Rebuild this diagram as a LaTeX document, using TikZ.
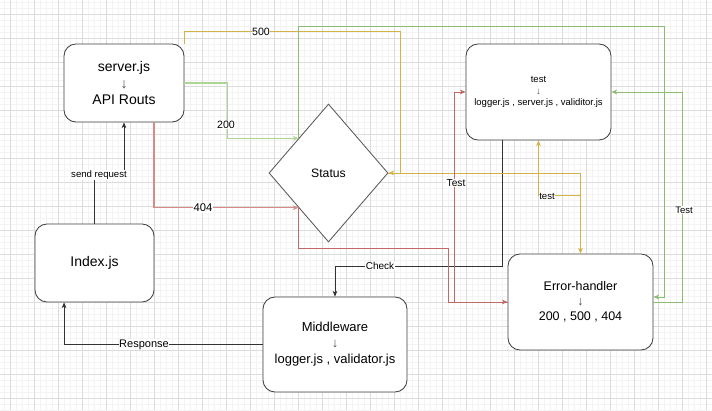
\documentclass[tikz,border=0pt]{standalone}
\usepackage{fontspec}
\setmainfont{Liberation Sans}
\usetikzlibrary{shapes.geometric,arrows.meta,calc}
\definecolor{gline}{HTML}{8DBB72}
\definecolor{oline}{HTML}{D3B24A}
\definecolor{rline}{HTML}{C06A66}
\definecolor{gtwo}{HTML}{AED596}
\definecolor{rfour}{HTML}{D88A88}
\definecolor{minorgrid}{HTML}{F3F3F3}
\definecolor{majorgrid}{HTML}{DCDCDC}
\definecolor{boxline}{HTML}{404040}
\begin{document}
\begin{tikzpicture}[x=1pt,y=-1pt,
  tip/.style={-{Stealth[length=5.5pt,width=4.5pt,inset=1.3pt]}},
  conn/.style={line width=0.75pt, tip},
  blk/.style={conn, draw=black!80},
  grn/.style={conn, draw=gline},
  olv/.style={conn, draw=oline},
  rd/.style={conn, draw=rline},
  box/.style={draw=boxline, line width=0.85pt, fill=white, rounded corners=12pt, align=center},
  lbl/.style={fill=white, inner sep=0.6pt},
  grdmin/.style={draw=minorgrid, line width=0.7pt},
  grdmaj/.style={draw=majorgrid, line width=0.7pt}]
\useasboundingbox (0,0) rectangle (712,410);
\fill[white] (0,0) rectangle (712,410);
% grid
\foreach \k in {0,...,118} { \draw[grdmin] ({4+6*\k},0) -- ({4+6*\k},410); }
\foreach \k in {0,...,68} { \draw[grdmin] (0,{2.3+6*\k}) -- (712,{2.3+6*\k}); }
\foreach \k in {0,...,29} { \draw[grdmaj] ({10+24*\k},0) -- ({10+24*\k},410); }
\foreach \k in {0,...,16} { \draw[grdmaj] (0,{14.3+24*\k}) -- (712,{14.3+24*\k}); }

% nodes
\node[box, minimum width=120pt, minimum height=78pt, font=\fontsize{14}{16.5}\selectfont] (server) at (124,83) {server.js\\{\color{black!70}↓}\\API Routs};
\node[box, minimum width=145pt, minimum height=96pt, font=\fontsize{9.5}{11.5}\selectfont] (test) at (538.5,92) {test\\{\color{black!70}↓}\\logger.js , server.js , validitor.js};
\node[box, minimum width=119pt, minimum height=78pt, font=\fontsize{14}{16.5}\selectfont] (index) at (94.5,263) {Index.js};
\node[box, minimum width=144pt, minimum height=95pt, font=\fontsize{13}{16}\selectfont] (mw) at (335,344.5) {Middleware\\{\color{black!70}↓}\\logger.js , validator.js};
\node[box, minimum width=145pt, minimum height=96pt, font=\fontsize{12.5}{15}\selectfont] (err) at (580.5,302) {Error-handler\\{\color{black!70}↓}\\200 , 500 , 404};
\node[diamond, draw=black!65, line width=0.85pt, fill=white, minimum width=119pt, minimum height=138pt, inner sep=0pt, font=\fontsize{12.2}{14}\selectfont] (status) at (328.5,173) {Status};

\coordinate (UL) at ($(status.west)!0.5!(status.north)$);
\coordinate (LL) at ($(status.west)!0.5!(status.south)$);

% connectors
\draw[blk] (index.north) -- ++(0,-49) -| (server.south);
\draw[blk] (mw.west) -| ([xshift=29.5pt]index.south west);
\draw[blk] ([xshift=-36.5pt]test.south) -- ++(0,126) -| (mw.north);
\draw[conn, draw=gtwo, line width=1.4pt] (server.east) -- ++(43,0) |- (UL);
\draw[conn, draw=rfour, line width=1.4pt] ([xshift=30pt]server.south) |- (LL);
\draw[olv] (server.north east) -- ++(0,-12) -| (400,173) -- (status.east);
\draw[olv] (status.east) -| (err.north);
\draw[olv] (err.north) -- ++(0,-58) -| (test.south);
\draw[rd] (LL) |- (448,248) |- (err.west);
\draw[rd] (err.west) -| (454,92) -- (test.west);
\draw[grn] (UL) |- (664,26) |- ([yshift=5pt]err.east);
\draw[grn] (err.east) -| (682,92) -- (test.east);

% labels
\node[lbl, font=\fontsize{10.6}{12}\selectfont] (l500) at (261,32) {500};
\node[lbl, font=\fontsize{10.6}{12}\selectfont] (l200) at (226,125) {200};
\node[lbl, font=\fontsize{11.2}{13}\selectfont] (l404) at (203,208) {404};
\node[lbl, font=\fontsize{9.6}{11}\selectfont] (lsend) at (99,175) {send request};
\node[lbl, font=\fontsize{11}{13}\selectfont] (lresp) at (144,344.5) {Response};
\node[lbl, font=\fontsize{10}{12}\selectfont] (lcheck) at (380,266) {Check};
\node[lbl, font=\fontsize{10.2}{12}\selectfont] (ltestr) at (456,183) {Test};
\node[lbl, font=\fontsize{9.5}{11}\selectfont] (ltestg) at (684,210) {Test};
\node[lbl, font=\fontsize{9.6}{11}\selectfont] (ltesto) at (547,196) {test};
\end{tikzpicture}
\end{document}
